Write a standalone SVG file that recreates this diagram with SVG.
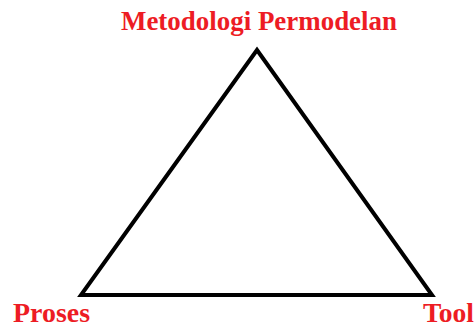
<svg xmlns="http://www.w3.org/2000/svg" width="476" height="328" viewBox="0 0 476 328">
<style>
.lbl{font-family:"Liberation Serif","Times New Roman",serif;font-weight:bold;font-size:27px;fill:#ed1c24}
.edge{fill:none;stroke:#000;stroke-width:4;stroke-linejoin:miter}
</style>
<rect width="476" height="328" fill="#fff"/>
<g id="connectors">
<polygon class="edge" points="257,50 81,295 432,295"/>
</g>
<g id="node-metodologi"><text class="lbl" x="121" y="30" textLength="276" lengthAdjust="spacingAndGlyphs">Metodologi Permodelan</text></g>
<g id="node-proses"><text class="lbl" x="13" y="322" textLength="77" lengthAdjust="spacingAndGlyphs">Proses</text></g>
<g id="node-tool"><text class="lbl" x="423" y="322" textLength="51" lengthAdjust="spacingAndGlyphs">Tool</text></g>
</svg>
